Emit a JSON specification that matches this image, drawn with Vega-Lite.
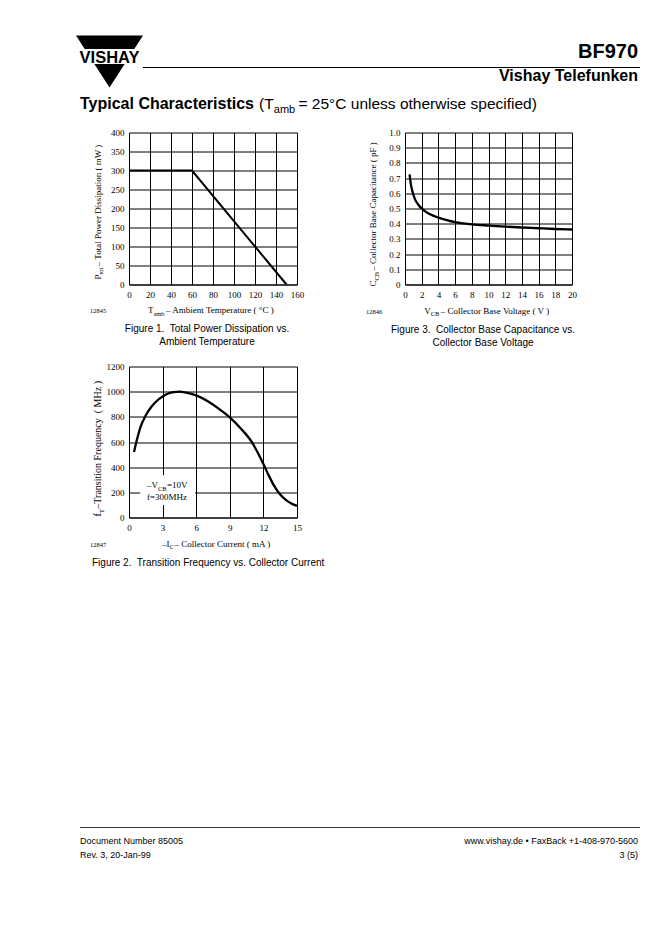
{
  "$schema": "https://vega.github.io/schema/vega-lite/v6.json",
  "background": "white",
  "padding": {"left": 76, "top": 29.5, "right": 0, "bottom": 0},
  "columns": 2,
  "bounds": "flush",
  "align": "each",
  "spacing": {"row": 82, "column": 108},
  "config": {
    "view": {"stroke": null},
    "axis": {"grid": true, "gridColor": "#000", "gridOpacity": 1, "gridWidth": 1, "domain": true, "domainColor": "#000", "domainWidth": 1, "ticks": false, "tickSize": 0, "labelFont": "Liberation Serif", "labelFontSize": 9, "labelColor": "#000", "labelFlush": false, "labelOverlap": false, "labelBound": false},
    "axisX": {"labelPadding": 6},
    "axisY": {"labelPadding": 5},
    "text": {"font": "Liberation Serif", "color": "#000"}
  },
  "concat": [
    {
      "width": 168, "height": 21,
      "layer": [
        {"data": {"values": [{}]}, "mark": {"type": "point", "shape": "M-1,-0.776L1,-0.776L0,0.776Z", "size": 4489, "filled": true, "color": "#000", "opacity": 1, "strokeWidth": 0},
         "encoding": {"x": {"datum": -19.5, "type": "quantitative", "scale": {"domain": [0, 168], "nice": false, "zero": false}, "axis": null}, "y": {"datum": 32, "type": "quantitative", "scale": {"domain": [0, 21], "nice": false, "zero": false, "reverse": true}, "axis": null}}},
        {"data": {"values": [{}]}, "mark": {"type": "rect", "color": "white"},
         "encoding": {"x": {"datum": -51, "type": "quantitative", "axis": null}, "x2": {"datum": 12}, "y": {"datum": 19.5, "type": "quantitative", "axis": null}, "y2": {"datum": 34.5}}},
        {"data": {"values": [{}]}, "mark": {"type": "text", "text": "VISHAY", "font": "Liberation Sans", "fontWeight": "bold", "fontSize": 16.5, "align": "center", "baseline": "alphabetic"},
         "encoding": {"x": {"datum": -19.5, "type": "quantitative", "axis": null}, "y": {"datum": 33.5, "type": "quantitative", "axis": null}}},
        {"data": {"values": [{}]}, "mark": {"type": "text", "text": "Typical Characteristics", "font": "Liberation Sans", "fontWeight": "bold", "fontSize": 16, "align": "left", "baseline": "alphabetic"},
         "encoding": {"x": {"datum": -49, "type": "quantitative", "axis": null}, "y": {"datum": 79, "type": "quantitative", "axis": null}}},
        {"data": {"values": [{}]}, "mark": {"type": "text", "text": "(T", "font": "Liberation Sans", "fontSize": 15.5, "align": "left", "baseline": "alphabetic"},
         "encoding": {"x": {"datum": 130, "type": "quantitative", "axis": null}, "y": {"datum": 79, "type": "quantitative", "axis": null}}},
        {"data": {"values": [{}]}, "mark": {"type": "text", "text": "amb", "font": "Liberation Sans", "fontSize": 11, "align": "left", "baseline": "alphabetic", "dx": 14.8, "dy": 4},
         "encoding": {"x": {"datum": 130, "type": "quantitative", "axis": null}, "y": {"datum": 79, "type": "quantitative", "axis": null}}},
        {"data": {"values": [{}]}, "mark": {"type": "text", "text": "\u00a0= 25°C unless otherwise specified)", "font": "Liberation Sans", "fontSize": 15.5, "align": "left", "baseline": "alphabetic", "dx": 39.5},
         "encoding": {"x": {"datum": 130, "type": "quantitative", "axis": null}, "y": {"datum": 79, "type": "quantitative", "axis": null}}}
      ]
    },
    {
      "width": 167, "height": 21,
      "layer": [
        {"data": {"values": [{}]}, "mark": {"type": "text", "text": "BF970", "font": "Liberation Sans", "fontWeight": "bold", "fontSize": 20, "align": "right", "baseline": "alphabetic"},
         "encoding": {"x": {"datum": 233, "type": "quantitative", "scale": {"domain": [0, 167], "nice": false, "zero": false}, "axis": null}, "y": {"datum": 28, "type": "quantitative", "scale": {"domain": [0, 21], "nice": false, "zero": false, "reverse": true}, "axis": null}}},
        {"data": {"values": [{}]}, "mark": {"type": "rule", "color": "#000", "strokeWidth": 1},
         "encoding": {"x": {"datum": -262, "type": "quantitative", "axis": null}, "x2": {"datum": 235}, "y": {"datum": 38, "type": "quantitative", "axis": null}}},
        {"data": {"values": [{}]}, "mark": {"type": "text", "text": "Vishay Telefunken", "font": "Liberation Sans", "fontWeight": "bold", "fontSize": 16, "align": "right", "baseline": "alphabetic"},
         "encoding": {"x": {"datum": 233, "type": "quantitative", "axis": null}, "y": {"datum": 51, "type": "quantitative", "axis": null}}}
      ]
    },
    {
      "width": 168, "height": 152,
      "layer": [
        {"data": {"values": [{"t": 0, "p": 300}, {"t": 60, "p": 300}, {"t": 150, "p": 0}]},
         "mark": {"type": "line", "color": "#000", "strokeWidth": 2},
         "encoding": {
           "x": {"field": "t", "type": "quantitative", "scale": {"domain": [0, 160], "nice": false, "zero": false}, "axis": {"values": [0, 20, 40, 60, 80, 100, 120, 140, 160], "tickCount": 30, "format": "d", "title": null}},
           "y": {"field": "p", "type": "quantitative", "scale": {"domain": [0, 400], "nice": false, "zero": false}, "axis": {"values": [0, 50, 100, 150, 200, 250, 300, 350, 400], "tickCount": 30, "format": "d", "title": null}}
         }},
        {"data": {"values": [{}]}, "mark": {"type": "text", "text": "P", "fontSize": 9, "angle": 270, "align": "left", "baseline": "alphabetic"},
         "encoding": {"x": {"datum": -26.67, "type": "quantitative"}, "y": {"datum": 13.16, "type": "quantitative"}}},
        {"data": {"values": [{}]}, "mark": {"type": "text", "text": "tot", "fontSize": 6.5, "angle": 270, "align": "left", "baseline": "alphabetic", "dx": 5.0, "dy": 2.5},
         "encoding": {"x": {"datum": -26.67, "type": "quantitative"}, "y": {"datum": 13.16, "type": "quantitative"}}},
        {"data": {"values": [{}]}, "mark": {"type": "text", "text": "\u00a0– Total Power Dissipation ( mW )", "fontSize": 9, "angle": 270, "align": "left", "baseline": "alphabetic", "dx": 13.2},
         "encoding": {"x": {"datum": -26.67, "type": "quantitative"}, "y": {"datum": 13.16, "type": "quantitative"}}},
        {"data": {"values": [{}]}, "mark": {"type": "text", "text": "T", "fontSize": 9, "align": "left", "baseline": "alphabetic"},
         "encoding": {"x": {"datum": 18.0, "type": "quantitative"}, "y": {"datum": -76.3, "type": "quantitative"}}},
        {"data": {"values": [{}]}, "mark": {"type": "text", "text": "amb", "fontSize": 6.5, "align": "left", "baseline": "alphabetic", "dx": 5.5, "dy": 2.5},
         "encoding": {"x": {"datum": 18.0, "type": "quantitative"}, "y": {"datum": -76.3, "type": "quantitative"}}},
        {"data": {"values": [{}]}, "mark": {"type": "text", "text": "\u00a0– Ambient Temperature ( °C )", "fontSize": 9, "align": "left", "baseline": "alphabetic", "dx": 18.2},
         "encoding": {"x": {"datum": 18.0, "type": "quantitative"}, "y": {"datum": -76.3, "type": "quantitative"}}},
        {"data": {"values": [{}]}, "mark": {"type": "text", "text": "12845", "fontSize": 6.5, "align": "left", "baseline": "alphabetic"},
         "encoding": {"x": {"datum": -37.14, "type": "quantitative"}, "y": {"datum": -76.3, "type": "quantitative"}}},
        {"data": {"values": [{}]}, "mark": {"type": "text", "text": ["Figure 1.\u00a0 Total Power Dissipation vs.", "Ambient Temperature"], "font": "Liberation Sans", "fontSize": 10, "lineHeight": 13, "align": "center", "baseline": "alphabetic"},
         "encoding": {"x": {"datum": 74.3, "type": "quantitative"}, "y": {"datum": -126.3, "type": "quantitative"}}}
      ]
    },
    {
      "width": 167, "height": 152,
      "layer": [
        {"data": {"values": [
          {"v": 0.55, "c": 0.725}, {"v": 0.7, "c": 0.66}, {"v": 0.9, "c": 0.61}, {"v": 1.2, "c": 0.56}, {"v": 1.6, "c": 0.525},
          {"v": 2, "c": 0.5}, {"v": 2.5, "c": 0.478}, {"v": 3, "c": 0.462}, {"v": 4, "c": 0.44}, {"v": 5, "c": 0.423},
          {"v": 6, "c": 0.41}, {"v": 7, "c": 0.402}, {"v": 8, "c": 0.396}, {"v": 10, "c": 0.388}, {"v": 12, "c": 0.381},
          {"v": 14, "c": 0.375}, {"v": 16, "c": 0.37}, {"v": 18, "c": 0.365}, {"v": 20, "c": 0.362}]},
         "mark": {"type": "line", "color": "#000", "strokeWidth": 2.3, "interpolate": "monotone"},
         "encoding": {
           "x": {"field": "v", "type": "quantitative", "scale": {"domain": [0, 20], "nice": false, "zero": false}, "axis": {"values": [0, 2, 4, 6, 8, 10, 12, 14, 16, 18, 20], "tickCount": 30, "format": "d", "title": null}},
           "y": {"field": "c", "type": "quantitative", "scale": {"domain": [0, 1], "nice": false, "zero": false}, "axis": {"values": [0, 0.1, 0.2, 0.3, 0.4, 0.5, 0.6, 0.7, 0.8, 0.9, 1.0], "tickCount": 30, "labelExpr": "datum.value == 0 ? '0' : format(datum.value, '.1f')", "title": null}}
         }},
        {"data": {"values": [{}]}, "mark": {"type": "text", "text": "C", "fontSize": 9, "angle": 270, "align": "left", "baseline": "alphabetic"},
         "encoding": {"x": {"datum": -3.473, "type": "quantitative"}, "y": {"datum": -0.0132, "type": "quantitative"}}},
        {"data": {"values": [{}]}, "mark": {"type": "text", "text": "CB", "fontSize": 6.5, "angle": 270, "align": "left", "baseline": "alphabetic", "dx": 6.0, "dy": 2.5},
         "encoding": {"x": {"datum": -3.473, "type": "quantitative"}, "y": {"datum": -0.0132, "type": "quantitative"}}},
        {"data": {"values": [{}]}, "mark": {"type": "text", "text": "\u00a0– Collector Base Capacitance ( pF )", "fontSize": 9, "angle": 270, "align": "left", "baseline": "alphabetic", "dx": 15.8},
         "encoding": {"x": {"datum": -3.473, "type": "quantitative"}, "y": {"datum": -0.0132, "type": "quantitative"}}},
        {"data": {"values": [{}]}, "mark": {"type": "text", "text": "V", "fontSize": 9, "align": "left", "baseline": "alphabetic"},
         "encoding": {"x": {"datum": 2.3, "type": "quantitative"}, "y": {"datum": -0.1908, "type": "quantitative"}}},
        {"data": {"values": [{}]}, "mark": {"type": "text", "text": "CB", "fontSize": 6.5, "align": "left", "baseline": "alphabetic", "dx": 6.5, "dy": 2.5},
         "encoding": {"x": {"datum": 2.3, "type": "quantitative"}, "y": {"datum": -0.1908, "type": "quantitative"}}},
        {"data": {"values": [{}]}, "mark": {"type": "text", "text": "\u00a0– Collector Base Voltage ( V )", "fontSize": 9, "align": "left", "baseline": "alphabetic", "dx": 16.6},
         "encoding": {"x": {"datum": 2.3, "type": "quantitative"}, "y": {"datum": -0.1908, "type": "quantitative"}}},
        {"data": {"values": [{}]}, "mark": {"type": "text", "text": "12846", "fontSize": 6.5, "align": "left", "baseline": "alphabetic"},
         "encoding": {"x": {"datum": -4.671, "type": "quantitative"}, "y": {"datum": -0.1908, "type": "quantitative"}}},
        {"data": {"values": [{}]}, "mark": {"type": "text", "text": ["Figure 3.\u00a0 Collector Base Capacitance vs.", "Collector Base Voltage"], "font": "Liberation Sans", "fontSize": 10, "lineHeight": 13, "align": "center", "baseline": "alphabetic"},
         "encoding": {"x": {"datum": 9.341, "type": "quantitative"}, "y": {"datum": -0.3158, "type": "quantitative"}}}
      ]
    },
    {
      "width": 168, "height": 151,
      "layer": [
        {"data": {"values": [
          {"i": 0.45, "f": 520}, {"i": 0.6, "f": 580}, {"i": 0.8, "f": 650}, {"i": 1.0, "f": 712}, {"i": 1.5, "f": 812},
          {"i": 2.0, "f": 880}, {"i": 2.5, "f": 928}, {"i": 3.0, "f": 962}, {"i": 3.5, "f": 985}, {"i": 4.0, "f": 997},
          {"i": 4.5, "f": 1000}, {"i": 5.0, "f": 995}, {"i": 6.0, "f": 970}, {"i": 7.0, "f": 925}, {"i": 8.0, "f": 865},
          {"i": 9.0, "f": 795}, {"i": 10.0, "f": 705}, {"i": 11.0, "f": 595}, {"i": 11.5, "f": 515}, {"i": 12.0, "f": 425},
          {"i": 12.5, "f": 330}, {"i": 13.0, "f": 245}, {"i": 13.5, "f": 182}, {"i": 14.0, "f": 140}, {"i": 14.5, "f": 112},
          {"i": 15.0, "f": 92}]},
         "mark": {"type": "line", "color": "#000", "strokeWidth": 2.3, "interpolate": "monotone"},
         "encoding": {
           "x": {"field": "i", "type": "quantitative", "scale": {"domain": [0, 15], "nice": false, "zero": false}, "axis": {"values": [0, 3, 6, 9, 12, 15], "tickCount": 30, "format": "d", "title": null}},
           "y": {"field": "f", "type": "quantitative", "scale": {"domain": [0, 1200], "nice": false, "zero": false}, "axis": {"values": [0, 200, 400, 600, 800, 1000, 1200], "tickCount": 30, "format": "d", "title": null}}
         }},
        {"data": {"values": [{}]}, "mark": {"type": "rect", "color": "white"},
         "encoding": {"x": {"datum": 1.0, "type": "quantitative"}, "x2": {"datum": 5.9}, "y": {"datum": 100, "type": "quantitative"}, "y2": {"datum": 335}}},
        {"data": {"values": [{}]}, "mark": {"type": "text", "text": "–V", "fontSize": 9, "align": "left", "baseline": "alphabetic"},
         "encoding": {"x": {"datum": 1.607, "type": "quantitative"}, "y": {"datum": 230.5, "type": "quantitative"}}},
        {"data": {"values": [{}]}, "mark": {"type": "text", "text": "CB", "fontSize": 6.5, "align": "left", "baseline": "alphabetic", "dx": 11.0, "dy": 2.5},
         "encoding": {"x": {"datum": 1.607, "type": "quantitative"}, "y": {"datum": 230.5, "type": "quantitative"}}},
        {"data": {"values": [{}]}, "mark": {"type": "text", "text": "=10V", "fontSize": 9, "align": "left", "baseline": "alphabetic", "dx": 20.0},
         "encoding": {"x": {"datum": 1.607, "type": "quantitative"}, "y": {"datum": 230.5, "type": "quantitative"}}},
        {"data": {"values": [{}]}, "mark": {"type": "text", "text": "f=300MHz", "fontSize": 9, "align": "center", "baseline": "alphabetic"},
         "encoding": {"x": {"datum": 3.393, "type": "quantitative"}, "y": {"datum": 143, "type": "quantitative"}}},
        {"data": {"values": [{}]}, "mark": {"type": "text", "text": "f", "fontSize": 10, "angle": 270, "align": "left", "baseline": "alphabetic"},
         "encoding": {"x": {"datum": -2.5, "type": "quantitative"}, "y": {"datum": 7.95, "type": "quantitative"}}},
        {"data": {"values": [{}]}, "mark": {"type": "text", "text": "T", "fontSize": 7, "angle": 270, "align": "left", "baseline": "alphabetic", "dx": 3.3, "dy": 2.5},
         "encoding": {"x": {"datum": -2.5, "type": "quantitative"}, "y": {"datum": 7.95, "type": "quantitative"}}},
        {"data": {"values": [{}]}, "mark": {"type": "text", "text": "\u00a0\u00a0–Transition Frequency\u00a0 (\u00a0MHz\u00a0)", "fontSize": 10, "angle": 270, "align": "left", "baseline": "alphabetic", "dx": 7.8},
         "encoding": {"x": {"datum": -2.5, "type": "quantitative"}, "y": {"datum": 7.95, "type": "quantitative"}}},
        {"data": {"values": [{}]}, "mark": {"type": "text", "text": "–I", "fontSize": 9, "align": "left", "baseline": "alphabetic"},
         "encoding": {"x": {"datum": 2.946, "type": "quantitative"}, "y": {"datum": -230.5, "type": "quantitative"}}},
        {"data": {"values": [{}]}, "mark": {"type": "text", "text": "C", "fontSize": 6.5, "align": "left", "baseline": "alphabetic", "dx": 7.5, "dy": 2.5},
         "encoding": {"x": {"datum": 2.946, "type": "quantitative"}, "y": {"datum": -230.5, "type": "quantitative"}}},
        {"data": {"values": [{}]}, "mark": {"type": "text", "text": "\u00a0\u00a0– Collector Current ( mA )", "fontSize": 9, "align": "left", "baseline": "alphabetic", "dx": 12.6},
         "encoding": {"x": {"datum": 2.946, "type": "quantitative"}, "y": {"datum": -230.5, "type": "quantitative"}}},
        {"data": {"values": [{}]}, "mark": {"type": "text", "text": "12847", "fontSize": 6.5, "align": "left", "baseline": "alphabetic"},
         "encoding": {"x": {"datum": -3.482, "type": "quantitative"}, "y": {"datum": -230.5, "type": "quantitative"}}},
        {"data": {"values": [{}]}, "mark": {"type": "text", "text": "Figure 2.\u00a0 Transition Frequency vs. Collector Current", "font": "Liberation Sans", "fontSize": 10, "align": "left", "baseline": "alphabetic"},
         "encoding": {"x": {"datum": -3.304, "type": "quantitative"}, "y": {"datum": -389.4, "type": "quantitative"}}}
      ]
    },
    {
      "width": 167, "height": 151,
      "data": {"values": []},
      "mark": {"type": "point"},
      "encoding": {}
    },
    {
      "width": 168, "height": 260,
      "layer": [
        {"data": {"values": [{}]}, "mark": {"type": "rule", "color": "#000", "strokeWidth": 0.8},
         "encoding": {"x": {"datum": -49, "type": "quantitative", "scale": {"domain": [0, 168], "nice": false, "zero": false}, "axis": null}, "x2": {"datum": 511}, "y": {"datum": 228, "type": "quantitative", "scale": {"domain": [0, 260], "nice": false, "zero": false, "reverse": true}, "axis": null}}},
        {"data": {"values": [{}]}, "mark": {"type": "text", "text": "Document Number 85005", "font": "Liberation Sans", "fontSize": 9, "align": "left", "baseline": "alphabetic"},
         "encoding": {"x": {"datum": -49, "type": "quantitative", "axis": null}, "y": {"datum": 244, "type": "quantitative", "axis": null}}},
        {"data": {"values": [{}]}, "mark": {"type": "text", "text": "Rev. 3, 20-Jan-99", "font": "Liberation Sans", "fontSize": 9, "align": "left", "baseline": "alphabetic"},
         "encoding": {"x": {"datum": -49, "type": "quantitative", "axis": null}, "y": {"datum": 258, "type": "quantitative", "axis": null}}},
        {"data": {"values": [{}]}, "mark": {"type": "text", "text": "www.vishay.de • FaxBack +1-408-970-5600", "font": "Liberation Sans", "fontSize": 9, "align": "right", "baseline": "alphabetic"},
         "encoding": {"x": {"datum": 509, "type": "quantitative", "axis": null}, "y": {"datum": 244, "type": "quantitative", "axis": null}}},
        {"data": {"values": [{}]}, "mark": {"type": "text", "text": "3 (5)", "font": "Liberation Sans", "fontSize": 9, "align": "right", "baseline": "alphabetic"},
         "encoding": {"x": {"datum": 509, "type": "quantitative", "axis": null}, "y": {"datum": 258, "type": "quantitative", "axis": null}}}
      ]
    }
  ]
}
